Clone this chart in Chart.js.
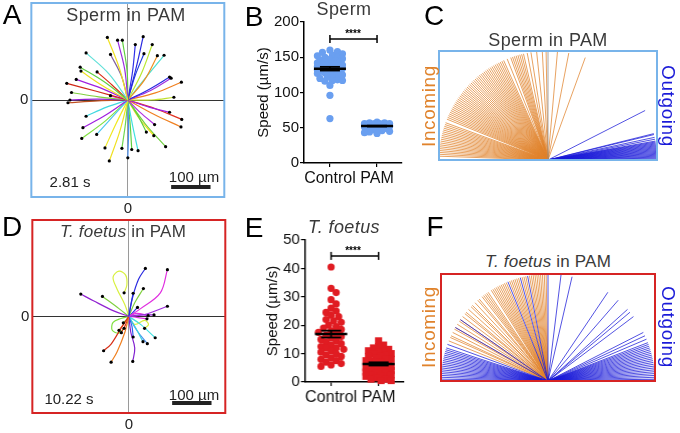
<!DOCTYPE html>
<html>
<head>
<meta charset="utf-8">
<script src="https://cdn.jsdelivr.net/npm/chart.js@4.4.1/dist/chart.umd.min.js"></script>
<style>
body{margin:0;background:#fff;width:680px;height:433px;overflow:hidden;position:relative;font-family:"Liberation Sans",Arial,sans-serif}
canvas{position:absolute;left:0;top:0}
.c{position:absolute;white-space:nowrap;transform:translate(-50%,-50%);color:#3a3a3a;line-height:1}
.L{font-size:28px;color:#000}
.ttl{font-size:18px;letter-spacing:0.4px}
.ann{font-size:15px;color:#222}
.inc{color:#e0832c;font-size:19px;letter-spacing:0.6px}
.out{color:#1a1ad8;font-size:19px;letter-spacing:0.6px}
.star{font-size:10px;color:#000;font-weight:bold}
</style>
</head>
<body>
<canvas id="cA" width="215" height="213"></canvas>
<canvas id="cB" width="153" height="193"></canvas>
<canvas id="cC" width="222" height="113"></canvas>
<canvas id="cD" width="215" height="213"></canvas>
<canvas id="cE" width="149" height="194"></canvas>
<canvas id="cF" width="218" height="111"></canvas>

<div class="c L" style="left:12px;top:15px">A</div>
<div class="c ttl" style="left:126px;top:15px">Sperm in PAM</div>
<div class="c ann" style="left:70px;top:181px">2.81 s</div>
<div class="c ann" style="left:194px;top:176px">100 µm</div>

<div class="c L" style="left:254px;top:17px">B</div>
<div class="c ttl" style="left:344px;top:9px">Sperm</div>
<div class="c star" style="left:353px;top:34px">****</div>

<div class="c L" style="left:434px;top:16px">C</div>
<div class="c ttl" style="left:548px;top:40px">Sperm in PAM</div>
<div class="c inc" style="left:428px;top:106px;transform:translate(-50%,-50%) rotate(-90deg)">Incoming</div>
<div class="c out" style="left:668px;top:106px;transform:translate(-50%,-50%) rotate(90deg)">Outgoing</div>

<div class="c L" style="left:12px;top:227px">D</div>
<div class="c ttl" style="left:123px;top:231px;font-size:17px;letter-spacing:0.2px"><i>T. foetus</i> in PAM</div>
<div class="c ann" style="left:69px;top:398px">10.22 s</div>
<div class="c ann" style="left:194px;top:394px">100 µm</div>

<div class="c L" style="left:254px;top:228px">E</div>
<div class="c ttl" style="left:344px;top:227px"><i>T. foetus</i></div>
<div class="c star" style="left:353px;top:251px">****</div>

<div class="c L" style="left:435px;top:227px">F</div>
<div class="c ttl" style="left:548px;top:261px;font-size:17px;letter-spacing:0.2px"><i>T. foetus</i> in PAM</div>
<div class="c inc" style="left:428px;top:327px;transform:translate(-50%,-50%) rotate(-90deg)">Incoming</div>
<div class="c out" style="left:668px;top:327px;transform:translate(-50%,-50%) rotate(90deg)">Outgoing</div>

<script>
// ---------- data ----------
// tracks in um, x,y pairs after the origin (last pair = end point)
const spermTracks = [
  [-22,82, -52,158], [-8,78, -26,151], [-2,75, -14,151], [22,85, 39,160], [12,72, 19,140],
  [35,68, 62,140], [18,60, 41,117], [42,50, 75,112], [50,62, 92,113], [-48,66, -106,119],
  [-16,60, -44,115], [-60,46, -121,83], [-64,36, -119,73], [-40,38, -78,71], [-68,30, -131,52],
  [-80,22, -155,42], [56,28, 106,58], [58,24, 110,55], [70,18, 136,45], [-74,8, -143,19],
  [-22,4, -44,11], [-78,2, -147,0], [-76,-2, -152,-7], [60,0, 117,7], [54,-18, 106,-31],
  [70,-22, 137,-49], [66,-36, 135,-68], [-54,-18, -106,-41], [-56,-38, -114,-70], [-40,-44, -79,-87],
  [-56,-52, -117,-97], [32,-32, 68,-62], [26,-40, 47,-81], [30,-48, 66,-90], [44,-60, 96,-118],
  [-30,-60, -58,-121], [-20,-78, -47,-154], [-6,-60, -15,-122], [2,-72, 0,-146], [6,-62, 10,-125],
  [12,-64, 26,-128]
];
const foetusTracks = [
  [10,50, 25,95, 42,122], [30,20, 80,60, 98,119], [-40,15, -90,40, -122,57], [-25,20, -67,51],
  [5,30, 11,59], [15,35, 37,71], [40,5, 98,26], [30,4, 64,4], [20,8, 49,2], [10,10, 22,23],
  [20,-2, 46,-6], [-20,-30, -45,-70, -64,-87], [-10,-40, -30,-90, -45,-116], [5,-40, 15,-80, 10,-114],
  [8,-25, 11,-52], [18,-30, 36,-64], [20,-35, 47,-69], [30,-20, 67,-54], [-10,-15, -25,-35],
  [-8,-20, -19,-41], [-6,-8, -14,-16],
  [-10,30, -30,70, -40,100, -25,115, -8,105, -5,80, -12,60],
  [-20,-5, -40,-15, -42,-35, -25,-42, -12,-30],
  [15,-20, 40,-10, 50,-20, 40,-30]
];

const categories = ['Control', 'PAM'];
const spermControl = [160,158,157,155,153,152,150,150,148,147,146,145,144,143,142,141,140,140,139,138,
  137,136,135,135,134,133,132,131,130,130,129,128,127,126,125,124,122,120,118,117,117,116,110,96,63];
const spermPAM = [58,57,57,56,56,56,56,55,55,55,55,55,55,55,54,54,54,54,54,54,54,53,53,53,53,53,53,
  52,52,52,52,51,51,51,50,50,49,48,47,46,45,44,43,42];
const foetusControl = [40.5,33,31.5,29,27.5,26,25,24.5,23.5,23,22,21.5,21,20,19.5,19,18.5,18,17.5,17,
  16.5,16,15.5,15,14.5,14,13.5,13,12.5,12,12,11.5,11,10.5,10,9.5,9,8.5,8,7.5,7,6.5,6,5.5];
const foetusPAM = [14.5,13,12.5,12,11.5,11,11,10.5,10,10,9.5,9,9,8.5,8,8,7.5,7.5,7,7,6.5,6.5,6,6,
  5.5,5.5,5,5,4.5,4.5,4,4,3.5,3.5,3,3,2.5,2.5,2,2,1.5,1,1,0.5,0.5];

// ray directions, degrees
const spermIncoming = [178,177,176,175,174,173,172,171,170,169,168,167,166,165,164,163,162,161,160,158,
  157,156,155,154,153,152,151,150,149,148,147,146,145,144,143,142,141,140,139,138,137,136,135,134,133,
  132,131,130,129,128,127,126,125,124,123,122,121,120,119,118,117,116,115,114,112,110,109,108,107,106,
  105,104,103,101,99,96,93,91,85,79,70];
const spermNeutral = [90];
const spermOutgoing = [27,14,13.5,12,11,10,9.5,9,8.5,8,7.5,7,6.5,6,5.5,5,4.5,4,3.5,3,2.5,2,1.5,1,0.5];
const foetusIncoming = [158,156,155,153,151,150,148,146,145,143,141,140,138,136,135,133,131,130,128,127,
  126,125,124,122,121,120,119,118,117,116,115,114,113,111,110,109,108,107,106,104,103,102,100,99,98,
  97,96,95,94,93,92,91];
const foetusOutgoing = [180,179,178,177,176,175,174,173,172,171,170,169,168,167,166,165,164,163,162,160,
  150,145,112,105,101,90,83,77,56,49,42,40,37,27,25,23,21,20,19,18,17,16,15,14,13,12,11,10,9,8,7,6,5,
  4,3,2,1,0.5];

// ---------- styles ----------
const spermColors = ['#f0e020','#9a2be0','#60d040','#2a2ae0','#3030e8','#b8e830','#2040e0','#f09020',
  '#50e0d0','#60e0d8','#8060a0','#60d040','#f0e020','#d83018','#a020e0','#d02818','#2a2ae0','#a030e0',
  '#f08020','#80d040','#e030e0','#9020d0','#c05020','#c0e030','#a020e0','#e03020','#f08020','#40d8e0',
  '#a020e0','#50c8f0','#80e040','#b030e0','#60d040','#f0e020','#70d040','#f0e820','#f0e020','#70d850',
  '#4a90f0','#60d040','#40e0e0'];
const foetusColors = ['#2a2ae0','#e030e0','#9020d0','#80d040','#2a40e0','#80d040','#a030e0','#9020d0',
  '#e030e0','#2a2ae0','#e030e0','#d83018','#f08020','#8020d0','#3060f0','#40d0e0','#4a90f0','#40e0e0',
  '#f08020','#d83018','#60d040','#d8f040','#80e040','#d8f040'];
const BLUE_DOT = '#6a9ff0', RED_DOT = '#e01c22';
const ORANGE = '#e0832c', RAYBLUE = '#1a1ad8';
const FONT = {family: '"Liberation Sans", Arial, sans-serif', size: 15};

Chart.defaults.animation = false;
Chart.defaults.responsive = false;
Chart.defaults.maintainAspectRatio = false;
Chart.defaults.plugins.legend.display = false;
Chart.defaults.plugins.tooltip.enabled = false;

// ---------- helpers ----------
// resize + move the canvas so the plot area lands on the wanted box
function place(chart, l, t, r, b) {
  let a = chart.chartArea;
  chart.resize(chart.width + (r - l) - (a.right - a.left), chart.height + (b - t) - (a.bottom - a.top));
  chart.update();
  a = chart.chartArea;
  chart.canvas.style.left = (l - a.left) + 'px';
  chart.canvas.style.top = (t - a.top) + 'px';
}

const frame = color => ({
  id: 'frame',
  afterDatasetsDraw(chart) {
    const a = chart.chartArea, ctx = chart.ctx;
    ctx.save();
    ctx.strokeStyle = color; ctx.lineWidth = 2;
    ctx.strokeRect(a.left, a.top, a.right - a.left, a.bottom - a.top);
    ctx.restore();
  }
});

const scaleBar = {
  id: 'scaleBar',
  afterDatasetsDraw(chart) {
    const x = chart.scales.x, ctx = chart.ctx, yb = chart.chartArea.bottom - 10;
    ctx.save();
    ctx.strokeStyle = '#222'; ctx.lineWidth = 4;
    ctx.beginPath(); ctx.moveTo(x.getPixelForValue(110), yb); ctx.lineTo(x.getPixelForValue(210), yb); ctx.stroke();
    ctx.restore();
  }
};

function trackChart(id, tracks, colors, border) {
  const datasets = tracks.map((t, i) => {
    const pts = [{x: 0, y: 0}];
    for (let k = 0; k < t.length; k += 2) pts.push({x: t[k], y: t[k + 1]});
    return {data: pts, showLine: true, borderColor: colors[i], borderWidth: 1.2,
      pointRadius: 0, tension: 0.35, order: 2};
  });
  datasets.unshift({
    data: tracks.map(t => ({x: t[t.length - 2], y: t[t.length - 1]})),
    pointRadius: 1.6, pointBackgroundColor: '#000', pointBorderWidth: 0, order: 1
  });
  const axis = gridColor => ({
    type: 'linear', min: -245, max: 245,
    afterBuildTicks: s => { s.ticks = [{value: 0}]; },
    ticks: {font: FONT, color: '#222', padding: 3, callback: () => '0'},
    grid: {color: gridColor, lineWidth: 1, drawTicks: false},
    border: {display: false}
  });
  return new Chart(document.getElementById(id), {
    type: 'scatter',
    data: {datasets},
    options: {
      layout: {padding: {top: 2, right: 2}},
      scales: {x: axis('#9a9a9a'), y: axis('#333')}
    },
    plugins: [frame(border), scaleBar]
  });
}

function meanSem(vals) {
  const n = vals.length, m = vals.reduce((a, b) => a + b, 0) / n;
  const sd = Math.sqrt(vals.reduce((a, b) => a + (b - m) * (b - m), 0) / (n - 1));
  return [m, sd / Math.sqrt(n)];
}

// simple beeswarm: spread points sideways so they overlap less
function swarm(vals, center, pxX, pxY, minD, maxOff) {
  const idx = vals.map((v, i) => i).sort((a, b) => vals[b] - vals[a]);
  const placed = [], out = [];
  idx.forEach(i => {
    const py = vals[i] * pxY;
    let best = 0, bestD = -1;
    for (let k = 0; ; k++) {
      const off = (k % 2 ? 1 : -1) * Math.ceil(k / 2) * 2.5;
      if (Math.abs(off) > maxOff) break;
      let d = Infinity;
      placed.forEach(p => { d = Math.min(d, Math.hypot(p[0] - off, p[1] - py)); });
      if (d >= minD) { best = off; bestD = d; break; }
      if (d > bestD) { bestD = d; best = off; }
    }
    placed.push([best, py]);
    out.push({x: center + best / pxX, y: vals[i]});
  });
  return out;
}

function statsChart(id, groups, color, styles, yMax, step, bracket) {
  const pxX = 47, pxY = 141 / yMax;
  const datasets = groups.map((g, i) => ({
    data: swarm(g, i + 1, pxX, pxY, styles[i] === 'rect' ? 5 : 5.5, 14),
    pointStyle: styles[i], pointRadius: styles[i] === 'rect' ? 5 : 3.6,
    pointBackgroundColor: color, pointBorderWidth: 0
  }));
  const stats = {
    id: 'stats',
    afterDatasetsDraw(chart) {
      const {ctx} = chart, x = chart.scales.x, y = chart.scales.y;
      const seg = (a, b, c, d) => { ctx.beginPath(); ctx.moveTo(a, b); ctx.lineTo(c, d); ctx.stroke(); };
      ctx.save(); ctx.strokeStyle = '#000';
      groups.forEach((g, i) => {
        const [m, se] = meanSem(g);
        const cx = x.getPixelForValue(i + 1);
        const ym = y.getPixelForValue(m), yt = y.getPixelForValue(m + se), yb = y.getPixelForValue(m - se);
        ctx.lineWidth = 2.5; seg(cx - 16, ym, cx + 16, ym);
        ctx.lineWidth = 1.8; seg(cx - 10, yt, cx + 10, yt); seg(cx - 10, yb, cx + 10, yb); seg(cx, yt, cx, yb);
      });
      const by = y.getPixelForValue(bracket), x1 = x.getPixelForValue(1), x2 = x.getPixelForValue(2);
      ctx.lineWidth = 1.5;
      seg(x1, by, x2, by); seg(x1, by - 4, x1, by + 4); seg(x2, by - 4, x2, by + 4);
      ctx.restore();
    }
  };
  return new Chart(document.getElementById(id), {
    type: 'scatter',
    data: {datasets},
    options: {
      clip: false,
      layout: {padding: {top: 10, right: 2}},
      scales: {
        x: {
          type: 'linear', min: 0.45, max: 2.53,
          afterBuildTicks: s => { s.ticks = [{value: 1}, {value: 2}]; },
          ticks: {font: {...FONT, size: 16}, color: '#111', padding: 2, maxRotation: 0,
            callback: (v, i) => categories[i]},
          grid: {drawOnChartArea: false, color: '#000', tickLength: 4, lineWidth: 1.2},
          border: {color: '#000', width: 1.5}
        },
        y: {
          min: 0, max: yMax,
          ticks: {stepSize: step, font: FONT, color: '#111', padding: 1},
          grid: {drawOnChartArea: false, color: '#000', tickLength: 4, lineWidth: 1.2},
          border: {color: '#000', width: 1.5},
          title: {display: true, text: 'Speed (µm/s)', font: FONT, color: '#111', padding: {top: 2, bottom: 0}}
        }
      }
    },
    plugins: [stats]
  });
}

function rays(angles) {
  const pts = [];
  angles.forEach(a => {
    const r = a * Math.PI / 180;
    pts.push({x: 0, y: 0}, {x: Math.cos(r), y: Math.sin(r)}, {x: NaN, y: NaN});
  });
  return pts;
}

function rayChart(id, sets, border) {
  return new Chart(document.getElementById(id), {
    type: 'scatter',
    data: {datasets: sets.map(s => ({
      data: rays(s.angles), showLine: true, spanGaps: false, borderColor: s.color,
      borderWidth: 0.75, pointRadius: 0, order: s.order
    }))},
    options: {
      layout: {padding: 2},
      scales: {
        x: {display: false, min: -1, max: 1},
        y: {display: false, min: 0, max: 1}
      }
    },
    plugins: [frame(border)]
  });
}

// ---------- render ----------
place(trackChart('cA', spermTracks, spermColors, '#78b4ea'), 31, 3, 224, 197);
place(trackChart('cD', foetusTracks, foetusColors, '#d62424'), 32, 220, 225, 413);
place(statsChart('cB', [spermControl, spermPAM], BLUE_DOT, ['circle', 'circle'], 200, 50, 176), 304, 22, 402, 163);
place(statsChart('cE', [foetusControl, foetusPAM], RED_DOT, ['circle', 'rect'], 50, 10, 44.4), 305, 240, 403, 382);
place(rayChart('cC', [
  {angles: spermIncoming, color: ORANGE, order: 2},
  {angles: spermNeutral, color: '#8a8a8a', order: 1},
  {angles: spermOutgoing, color: RAYBLUE, order: 1}
], '#78b4ea'), 439, 51, 657, 160);
place(rayChart('cF', [
  {angles: foetusIncoming, color: ORANGE, order: 2},
  {angles: foetusOutgoing, color: RAYBLUE, order: 1}
], '#d62424'), 441, 274, 655, 381);
</script>
</body>
</html>
